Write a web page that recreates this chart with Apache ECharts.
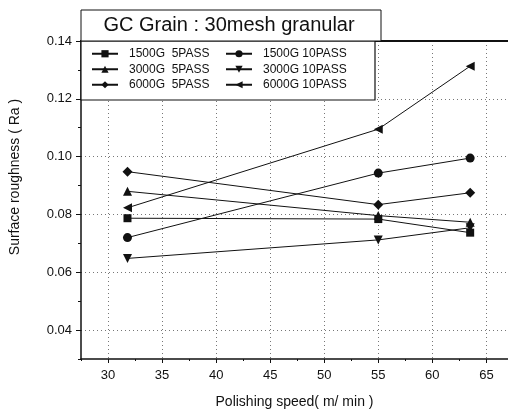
<!DOCTYPE html>
<html>
<head>
<meta charset="utf-8">
<script src="https://cdn.jsdelivr.net/npm/echarts@6/dist/echarts.min.js"></script>
<style>
html,body{margin:0;padding:0;background:#fff;}
#main{width:508px;height:414px;}
</style>
</head>
<body>
<div id="main"></div>
<script>
// polishing speed (m/min)
const speeds = [31.8, 55, 63.5];
// surface roughness Ra
const ra1500g5 = [0.0787, 0.0784, 0.0737];
const ra1500g10 = [0.0720, 0.0943, 0.0995];
const ra3000g5 = [0.0880, 0.0796, 0.0773];
const ra3000g10 = [0.0648, 0.0712, 0.0754];
const ra6000g5 = [0.0948, 0.0834, 0.0875];
const ra6000g10 = [0.0823, 0.1095, 0.1313];

// tick values
const xTicks = [30, 35, 40, 45, 50, 55, 60, 65];
const xMinorTicks = [27.5, 32.5, 37.5, 42.5, 47.5, 52.5, 57.5, 62.5];
const yTicks = [0.04, 0.06, 0.08, 0.10, 0.12, 0.14];
const yMinorTicks = [0.03, 0.05, 0.07, 0.09, 0.11, 0.13];

const seriesNames = ['1500G  5PASS', '1500G 10PASS', '3000G  5PASS', '3000G 10PASS', '6000G  5PASS', '6000G 10PASS'];
const seriesValues = [ra1500g5, ra1500g10, ra3000g5, ra3000g10, ra6000g5, ra6000g10];
const symbols = ['rect', 'circle', 'triangle', 'triangle', 'diamond', 'triangle'];
const rotates = [0, 0, 0, 180, 0, 90];
const sizes = [8, 9, 9, 9, 10, 9];

const font = '"Liberation Sans", Arial, sans-serif';
const ink = '#111';

//把数据拼成折线系列
function makeSeries(i) {
	return {
		name: seriesNames[i],
		type: 'line',
		data: speeds.map((x, k) => [x, seriesValues[i][k]]),
		symbol: symbols[i],
		symbolRotate: rotates[i],
		symbolSize: sizes[i],
		showAllSymbol: true,
		lineStyle: {color: ink, width: 1},
		itemStyle: {color: ink},
		z: 3
	};
}

const grid = {type: [1, 3], color: '#777', width: 1};

const chart = echarts.init(document.getElementById('main'));
chart.setOption({
	animation: false,
	grid: {left: 81, right: 0, top: 41, bottom: 55},
	xAxis: [{
		type: 'value', min: 27.5, max: 67,
		name: 'Polishing speed( m/ min )', nameLocation: 'middle', nameGap: 36,
		nameTextStyle: {fontFamily: font, fontSize: 14, color: ink},
		axisLine: {onZero: false, lineStyle: {color: ink, width: 1.5}},
		axisTick: {length: 4, lineStyle: {color: ink}, customValues: xTicks},
		axisLabel: {fontFamily: font, fontSize: 13, color: ink, margin: 10, customValues: xTicks},
		splitLine: {show: true, lineStyle: grid}
	}, {
		// 上边框
		type: 'value', position: 'top', min: 27.5, max: 67,
		axisLine: {show: true, onZero: false, lineStyle: {color: ink, width: 2}},
		axisTick: {show: false}, axisLabel: {show: false}, splitLine: {show: false}
	}, {
		// 次刻度
		type: 'value', position: 'bottom', min: 27.5, max: 67,
		axisLine: {show: false, onZero: false},
		axisTick: {length: 2, lineStyle: {color: ink}, customValues: xMinorTicks},
		axisLabel: {show: false}, splitLine: {show: false}
	}],
	yAxis: [{
		type: 'value', min: 0.03, max: 0.14,
		name: 'Surface roughness ( Ra )', nameLocation: 'middle', nameGap: 59,
		nameTextStyle: {fontFamily: font, fontSize: 14, color: ink, padding: [0, 0, 0, 46]},
		axisLine: {show: true, onZero: false, lineStyle: {color: ink, width: 1.5}},
		axisTick: {length: 5, lineStyle: {color: ink}, customValues: yTicks},
		axisLabel: {fontFamily: font, fontSize: 13, color: ink, margin: 9, customValues: yTicks,
			formatter: v => v.toFixed(2)},
		splitLine: {show: true, lineStyle: grid}
	}, {
		type: 'value', position: 'left', min: 0.03, max: 0.14,
		axisLine: {show: false, onZero: false},
		axisTick: {length: 3, lineStyle: {color: ink}, customValues: yMinorTicks},
		axisLabel: {show: false}, splitLine: {show: false}
	}],
	legend: {
		data: seriesNames,
		left: 86, top: 42, width: 300,
		itemWidth: 26, itemHeight: 9, itemGap: 2,
		textStyle: {fontFamily: font, fontSize: 12, color: ink, width: 94,
			lineHeight: 13.5, padding: [0, 0, 0, 6]}
	},
	graphic: [
		{type: 'rect', z: 1, shape: {x: 81, y: 41, width: 294, height: 59},
			style: {fill: '#fff', stroke: ink, lineWidth: 1.2}},
		{type: 'rect', z: 1, shape: {x: 81, y: 10, width: 300, height: 31},
			style: {fill: '#fff', stroke: ink, lineWidth: 1}},
		{type: 'text', z: 2, x: 229, y: 25,
			style: {text: 'GC Grain : 30mesh granular', font: '20px ' + font, fill: ink,
				align: 'center', verticalAlign: 'middle'}}
	],
	series: seriesNames.map((n, i) => makeSeries(i))
});
</script>
</body>
</html>
